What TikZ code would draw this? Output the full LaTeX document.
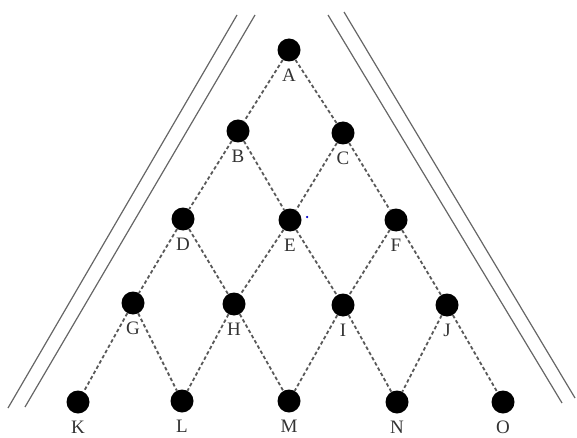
\documentclass[tikz,border=0pt]{standalone}
\usepackage{fontspec}
\setmainfont{Liberation Serif}
\begin{document}
\begin{tikzpicture}[x=1pt,y=-1pt,
  dot/.style={circle,fill=black,inner sep=0pt,minimum size=23pt},
  lab/.style={font=\fontsize{19}{19}\selectfont,text=black!80,inner sep=0pt},
  conn/.style={draw=black!65,line width=1.8pt,dash pattern=on 3.5pt off 2.5pt},
  wall/.style={draw=black!60,line width=1.2pt}]
\useasboundingbox (0,0) rectangle (577,438);
% walls
\coordinate (lo1) at (237,15); \coordinate (lo2) at (8,408);
\coordinate (li1) at (255,15); \coordinate (li2) at (25,407);
\coordinate (ri1) at (328,15); \coordinate (ri2) at (562,403);
\coordinate (ro1) at (344,12); \coordinate (ro2) at (575,398);
\draw[wall] (lo1) -- (lo2);
\draw[wall] (li1) -- (li2);
\draw[wall] (ri1) -- (ri2);
\draw[wall] (ro1) -- (ro2);
% nodes
\node[dot] (A) at (289,50) {};
\node[dot] (B) at (238,131) {};
\node[dot] (C) at (343,133) {};
\node[dot] (D) at (183,219) {};
\node[dot] (E) at (290,220) {};
\node[dot] (F) at (396,220) {};
\node[dot] (G) at (133,303) {};
\node[dot] (H) at (234,304) {};
\node[dot] (I) at (343,305) {};
\node[dot] (J) at (447,305) {};
\node[dot] (K) at (78,402) {};
\node[dot] (L) at (182,401) {};
\node[dot] (M) at (289,401) {};
\node[dot] (N) at (397,402) {};
\node[dot] (O) at (503,402) {};
% connectors
\foreach \a/\b in {A/B,A/C,B/D,B/E,C/E,C/F,D/G,D/H,E/H,E/I,F/I,F/J,G/K,G/L,H/L,H/M,I/M,I/N,J/N,J/O}
  \draw[conn] (\a) -- (\b);
% labels
\foreach \n in {A,B,C,D,E,F,G,H,I,J,K,L,M,N,O}
  \node[lab] (l\n) at ([yshift=-25pt]\n.center) {\n};
% small blue mark near E
\node[circle,fill=blue!80!black,inner sep=0pt,minimum size=2.5pt] (bdot) at (307,217) {};
\end{tikzpicture}
\end{document}
